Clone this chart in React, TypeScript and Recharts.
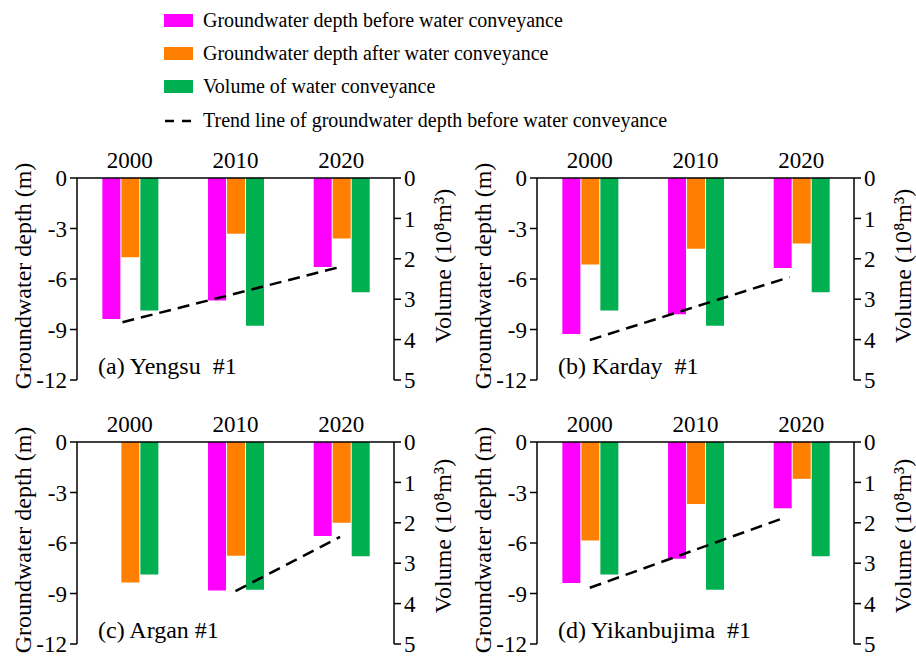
import React from 'react';
import { ComposedChart, Bar, Line, XAxis, YAxis } from 'recharts';

const years = ['2000', '2010', '2020'];
const volume = [3.28, 3.66, 2.83];

const aBefore = [-8.38, -7.27, -5.29];
const aAfter = [-4.71, -3.31, -3.6];
const bBefore = [-9.26, -8.09, -5.35];
const bAfter = [-5.14, -4.21, -3.89];
const cBefore = [null, -8.82, -5.59];
const cAfter = [-8.34, -6.75, -4.8];
const dBefore = [-8.38, -6.93, -3.94];
const dAfter = [-5.85, -3.68, -2.19];

// trend line end points: x in category-index units (band centre = i + 0.5), y = depth
const aTrend = [{ x: 0.43, y: -8.57 }, { x: 2.5, y: -5.27 }];
const bTrend = [{ x: 0.5, y: -9.62 }, { x: 2.39, y: -5.89 }];
const cTrend = [{ x: 1.5, y: -8.86 }, { x: 2.49, y: -5.63 }];
const dTrend = [{ x: 0.5, y: -8.66 }, { x: 2.35, y: -4.48 }];

const depthTicks = [0, -3, -6, -9, -12];
const volumeTicks = [0, 1, 2, 3, 4, 5];

const legendItems = [
  'Groundwater depth before water conveyance',
  'Groundwater depth after water conveyance',
  'Volume of water conveyance',
  'Trend line of groundwater depth before water conveyance',
];

const FONT = "'Liberation Serif','Times New Roman',serif";
const C_BEFORE = '#FF00FF';
const C_AFTER = '#FF8000';
const C_VOL = '#00B050';

function rows(before: (number | null)[], after: number[]) {
  return years.map((y, i) => ({ year: y, before: before[i], after: after[i], volume: volume[i] }));
}

const tickStyle = { fill: '#000', fontSize: 23, fontFamily: FONT };
const axisLine = { stroke: '#000', strokeWidth: 1.5 };

function Panel({ left, top, before, after, trend, title }: any) {
  const data = rows(before, after);
  return (
    <div style={{ position: 'absolute', left, top, width: 460, height: 280 }}>
      <ComposedChart
        width={460}
        height={280}
        data={data}
        margin={{ top: 0, right: 6, left: 17, bottom: 30 }}
        barCategoryGap="24%"
        barGap={1}
      >
        <XAxis
          xAxisId="cat"
          dataKey="year"
          type="category"
          orientation="top"
          height={48}
          axisLine={axisLine}
          tickLine={false}
          tickSize={0}
          tickMargin={10}
          tick={tickStyle}
        />
        <XAxis
          xAxisId="num"
          dataKey="x"
          type="number"
          domain={[0, 3]}
          allowDataOverflow
          orientation="bottom"
          height={0}
          tick={false}
          tickLine={false}
          axisLine={axisLine}
        />
        <YAxis
          yAxisId="depth"
          type="number"
          domain={[-12, 0]}
          ticks={depthTicks}
          interval={0}
          width={60}
          axisLine={axisLine}
          tickLine={{ stroke: '#000', strokeWidth: 1.5 }}
          tickSize={7}
          tickMargin={3}
          tick={tickStyle}
        />
        <YAxis
          yAxisId="vol"
          type="number"
          orientation="right"
          reversed
          domain={[0, 5]}
          ticks={volumeTicks}
          interval={0}
          width={60}
          axisLine={axisLine}
          tickLine={{ stroke: '#000', strokeWidth: 1.5 }}
          tickSize={7}
          tickMargin={3}
          tick={tickStyle}
        />
        <Bar xAxisId="cat" yAxisId="depth" dataKey="before" fill={C_BEFORE} isAnimationActive={false} />
        <Bar xAxisId="cat" yAxisId="depth" dataKey="after" fill={C_AFTER} isAnimationActive={false} />
        <Bar xAxisId="cat" yAxisId="vol" dataKey="volume" fill={C_VOL} isAnimationActive={false} />
        <Line
          xAxisId="num"
          yAxisId="depth"
          data={trend}
          dataKey="y"
          type="linear"
          stroke="#000"
          strokeWidth={2.5}
          strokeDasharray="12 7"
          dot={false}
          activeDot={false}
          isAnimationActive={false}
        />
      </ComposedChart>
      <div
        style={{
          position: 'absolute',
          left: 98,
          top: 236 - 13,
          fontFamily: FONT,
          fontSize: 24,
          lineHeight: '26px',
          whiteSpace: 'pre',
          color: '#000',
        }}
      >
        {title}
      </div>
    </div>
  );
}

function VText({ x, y, text }: any) {
  return (
    <div
      style={{
        position: 'absolute',
        left: x,
        top: y,
        transform: 'translate(-50%, -50%) rotate(-90deg)',
        fontFamily: FONT,
        fontSize: 24,
        lineHeight: '26px',
        whiteSpace: 'nowrap',
        color: '#000',
      }}
    >
      {text}
    </div>
  );
}

function Legend() {
  const colors = [C_BEFORE, C_AFTER, C_VOL];
  const centers = [20, 53, 86, 120];
  return (
    <>
      {legendItems.map((label, i) => (
        <div key={label} style={{ position: 'absolute', left: 164, top: centers[i] - 12, height: 24, display: 'flex', alignItems: 'center' }}>
          {i < 3 ? (
            <div style={{ width: 29, height: 13, background: colors[i] }} />
          ) : (
            <svg width={29} height={13}>
              <line x1={1} y1={7} x2={29} y2={7} stroke="#000" strokeWidth={2.5} strokeDasharray="9 8" />
            </svg>
          )}
          <span style={{ marginLeft: 10, fontFamily: FONT, fontSize: 20, lineHeight: '24px', color: '#000', whiteSpace: 'nowrap' }}>
            {label}
          </span>
        </div>
      ))}
    </>
  );
}

export default function App() {
  return (
    <div style={{ position: 'absolute', left: 0, top: 0, width: 916, height: 658, background: '#fff', overflow: 'hidden' }}>
      <Legend />
      <Panel left={0} top={130} before={aBefore} after={aAfter} trend={aTrend} title={'(a) Yengsu  #1'} />
      <Panel left={460} top={130} before={bBefore} after={bAfter} trend={bTrend} title={'(b) Karday  #1'} />
      <Panel left={0} top={394} before={cBefore} after={cAfter} trend={cTrend} title={'(c) Argan #1'} />
      <Panel left={460} top={394} before={dBefore} after={dAfter} trend={dTrend} title={'(d) Yikanbujima  #1'} />
      <VText x={23} y={276} text="Groundwater depth (m)" />
      <VText x={483} y={276} text="Groundwater depth (m)" />
      <VText x={23} y={540} text="Groundwater depth (m)" />
      <VText x={483} y={540} text="Groundwater depth (m)" />
      <VText x={443} y={266} text="Volume (10⁸m³)" />
      <VText x={903} y={266} text="Volume (10⁸m³)" />
      <VText x={443} y={536} text="Volume (10⁸m³)" />
      <VText x={903} y={536} text="Volume (10⁸m³)" />
    </div>
  );
}
